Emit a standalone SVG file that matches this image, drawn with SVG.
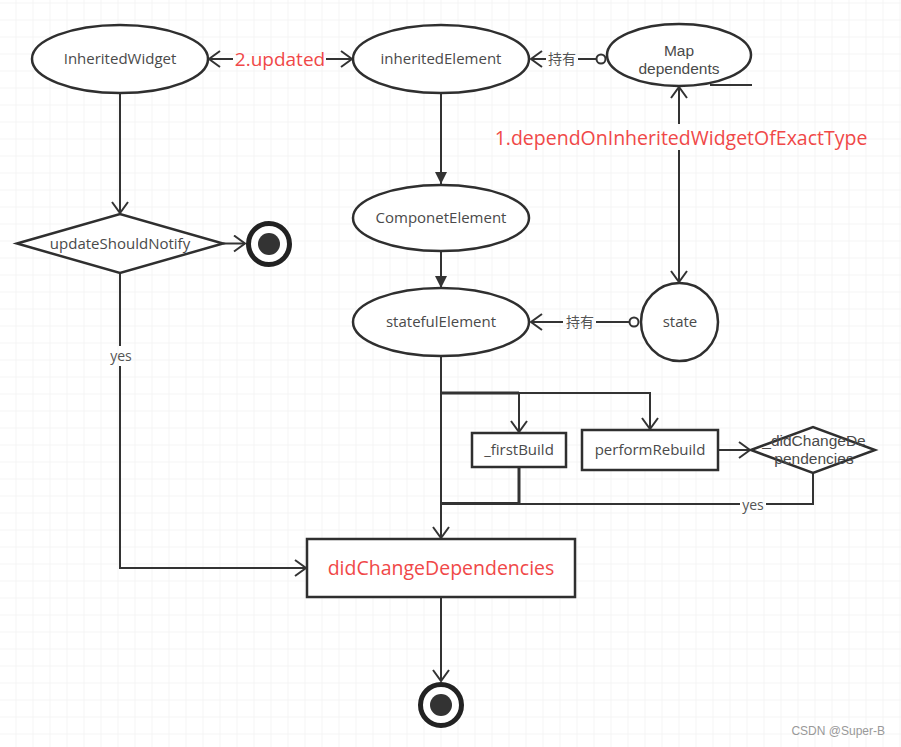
<svg xmlns="http://www.w3.org/2000/svg" width="901" height="747" viewBox="0 0 901 747">
<defs>
<pattern id="grid" patternUnits="userSpaceOnUse" x="15.5" y="19.5" width="17" height="17">
<path d="M0 0 H17 M0 0 V17" fill="none" stroke="#ebebeb" stroke-width="1"/>
</pattern>
<marker id="open" markerUnits="userSpaceOnUse" viewBox="-12 -9 14 18" refX="0" refY="0" markerWidth="14" markerHeight="18" orient="auto-start-reverse">
<path d="M-11 -8 L0 0 L-11 8" fill="none" stroke="#333" stroke-width="2"/>
</marker>
<marker id="solid" markerUnits="userSpaceOnUse" viewBox="-12 -7 13 14" refX="0" refY="0" markerWidth="13" markerHeight="14" orient="auto">
<path d="M-12 -6 L0 0 L-12 6 Z" fill="#333"/>
</marker>
</defs>
<style>
.shape{fill:#fff;stroke:#2f2f2f;stroke-width:2.5}
.box{fill:#fff;stroke:#2f2f2f;stroke-width:2.5}
.t{font-family:"Open Sans","Noto Sans","Noto Sans CJK SC",sans-serif;font-size:15px;fill:#4a4a4a;text-anchor:middle}
.t2{font-family:"Liberation Sans",Arial,sans-serif;font-size:15.5px;fill:#4a4a4a;text-anchor:middle}
.red{fill:#f04848}
.c{fill:none;stroke:#333;stroke-width:2}
.thick{fill:none;stroke:#333;stroke-width:3}
.lbl{font-family:"Open Sans","Noto Sans","Noto Sans CJK SC",sans-serif;font-size:14px;fill:#555;text-anchor:middle}
</style>
<rect width="901" height="747" fill="#fff"/>
<rect width="901" height="747" fill="url(#grid)"/>

<g id="connectors">
<line class="c" x1="209" y1="59" x2="233" y2="59" marker-start="url(#open)"/>
<line class="c" x1="326" y1="59" x2="352" y2="59" marker-end="url(#open)"/>
<text class="t red" x="280" y="66" style="font-size:19px">2.updated</text>
<line class="c" x1="603" y1="59" x2="578" y2="59"/>
<circle cx="601" cy="59" r="4.5" fill="#fff" stroke="#333" stroke-width="2"/>
<line class="c" x1="546" y1="59" x2="531" y2="59" marker-end="url(#open)"/>
<text class="lbl" x="562" y="64">持有</text>
<line class="c" x1="120" y1="93" x2="120" y2="213" marker-end="url(#open)"/>
<line class="c" x1="223" y1="243.5" x2="245" y2="243.5" marker-end="url(#open)"/>
<line class="c" x1="120" y1="273" x2="120" y2="346"/>
<text class="lbl" x="121" y="361">yes</text>
<polyline class="c" points="120,366 120,568 306,568" marker-end="url(#open)"/>
<line class="c" x1="441" y1="93" x2="441" y2="184" marker-end="url(#solid)"/>
<line class="c" x1="441" y1="251" x2="441" y2="288" marker-end="url(#solid)"/>
<line class="c" x1="679" y1="87" x2="679" y2="124" marker-start="url(#open)"/>
<line class="c" x1="679" y1="150" x2="679" y2="282" marker-end="url(#open)"/>
<text class="t red" x="681" y="145" style="font-size:19.5px">1.dependOnInheritedWidgetOfExactType</text>
<line class="c" x1="710" y1="85" x2="752" y2="85"/>
<line class="c" x1="630" y1="322" x2="596" y2="322"/>
<circle cx="634" cy="322" r="4.5" fill="#fff" stroke="#333" stroke-width="2"/>
<line class="c" x1="563" y1="322" x2="531" y2="322" marker-end="url(#open)"/>
<text class="lbl" x="580" y="327">持有</text>
<line class="c" x1="441" y1="356" x2="441" y2="538" marker-end="url(#open)"/>
<line class="thick" x1="441" y1="393" x2="519" y2="393"/>
<polyline class="c" points="519,393 650,393 650,429" marker-end="url(#open)"/>
<line class="c" x1="519" y1="393" x2="519" y2="432" marker-end="url(#open)"/>
<polyline class="thick" points="519,467 519,503.5 441,503.5"/>
<line class="c" x1="718" y1="450" x2="750" y2="450" marker-end="url(#open)"/>
<polyline class="c" points="813,473 813,504 766,504"/>
<line class="c" x1="740" y1="504" x2="519" y2="504"/>
<text class="lbl" x="753" y="510">yes</text>
<line class="c" x1="441" y1="597" x2="441" y2="681" marker-end="url(#open)"/>
</g>

<g id="InheritedWidget">
<ellipse class="shape" cx="120" cy="59" rx="88" ry="34"/>
<text class="t" x="120" y="64">InheritedWidget</text>
</g>
<g id="inheritedElement">
<ellipse class="shape" cx="441" cy="59" rx="88" ry="34"/>
<text class="t" x="441" y="64">inheritedElement</text>
</g>
<g id="MapDependents">
<ellipse class="shape" cx="679" cy="55" rx="72" ry="31"/>
<text class="t2" x="679" y="56">Map</text>
<text class="t2" x="679" y="74">dependents</text>
</g>
<g id="updateShouldNotify">
<polygon class="shape" points="17,243.5 120,214 223,243.5 120,273"/>
<text class="t" x="120" y="249">updateShouldNotify</text>
</g>
<g id="end1">
<circle cx="269" cy="244" r="20.5" fill="#fff" stroke="#222" stroke-width="5"/>
<circle cx="269" cy="244" r="11" fill="#333"/>
</g>
<g id="ComponetElement">
<ellipse class="shape" cx="441" cy="218" rx="88" ry="33"/>
<text class="t" x="441" y="223">ComponetElement</text>
</g>
<g id="statefulElement">
<ellipse class="shape" cx="441" cy="322" rx="88" ry="34"/>
<text class="t" x="441" y="327">statefulElement</text>
</g>
<g id="state">
<ellipse class="shape" cx="679.5" cy="322" rx="38.5" ry="39"/>
<text class="t" x="680" y="327">state</text>
</g>
<g id="firstBuild">
<rect class="box" x="472" y="433" width="94" height="34"/>
<text class="t" x="519" y="455">_firstBuild</text>
</g>
<g id="performRebuild">
<rect class="box" x="582" y="430" width="136" height="40"/>
<text class="t" x="650" y="455">performRebuild</text>
</g>
<g id="didChangeDecision">
<polygon class="shape" points="751,450 813,427 875,450 813,473"/>
<text class="t2" x="814" y="446">_didChangeDe</text>
<text class="t2" x="814" y="464">pendencies</text>
</g>
<g id="didChangeDependencies">
<rect class="box" x="307" y="539" width="268" height="58"/>
<text class="t red" x="441" y="575" style="font-size:19.5px">didChangeDependencies</text>
</g>
<g id="end2">
<circle cx="441" cy="705" r="20.5" fill="#fff" stroke="#222" stroke-width="5"/>
<circle cx="441" cy="705" r="11" fill="#333"/>
</g>
<text x="885" y="735" style="font-family:'Liberation Sans',sans-serif;font-size:12px;fill:#999;text-anchor:end">CSDN @Super-B</text>
</svg>
